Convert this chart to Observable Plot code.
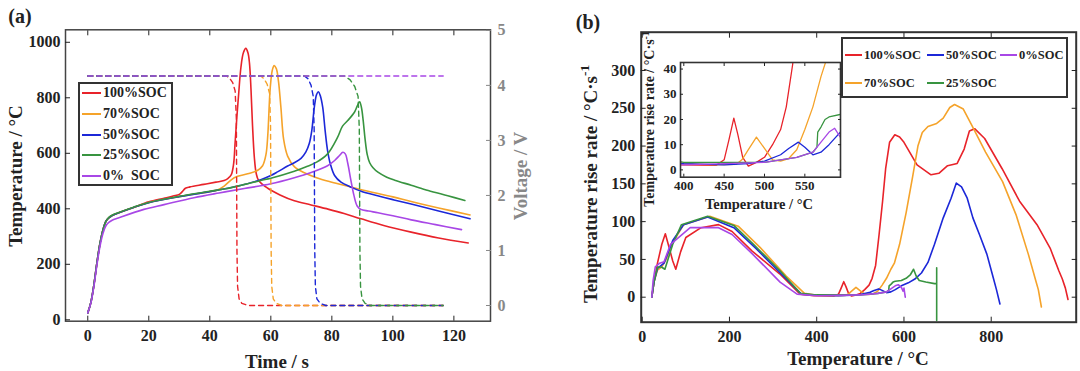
<!DOCTYPE html>
<html><head><meta charset="utf-8">
<script src="https://cdn.jsdelivr.net/npm/d3@7"></script>
<script src="https://cdn.jsdelivr.net/npm/@observablehq/plot@0.6"></script>
<style>
body{margin:0;background:#fff;}
#wrap{position:relative;width:1080px;height:371px;overflow:hidden;background:#fff;font-family:"Liberation Serif","Times New Roman",serif;font-weight:bold;color:#222;}
#wrap svg, #wrap svg text{font-family:"Liberation Serif","Times New Roman",serif !important;font-weight:bold !important;font-variant:normal !important;}
.abs{position:absolute;left:0;top:0;}
.lbl{position:absolute;white-space:pre;transform:translate(-50%,-50%);line-height:1;}
.vlbl{position:absolute;white-space:pre;transform:translate(-50%,-50%) rotate(-90deg);line-height:1;}
.vlbl sup{font-size:0.7em;vertical-align:0.55em;line-height:0;}
.legend{position:absolute;background:#fff;border:2px solid #333;box-sizing:border-box;}
.item{position:absolute;white-space:pre;display:flex;align-items:center;line-height:1;}
.sw{display:inline-block;height:0;border-top:2px solid;margin-right:2px;}
</style></head><body>
<div id="wrap"></div>
<script>
// ---------- categories / colours ----------
const socLabels = ["100%SOC", "70%SOC", "50%SOC", "25%SOC", "0%SOC"];
const socColors = ["#e8232a", "#f5a32a", "#1c28d8", "#389440", "#a847e6"];
const legendA = ["100%SOC", "70%SOC", "50%SOC", "25%SOC", "0%  SOC"];

// ---------- panel (a): temperature [time s, °C] ----------
const tempA100 = [[0,25],[1,62],[2,125],[3,205],[4,275],[5,325],[6,356],[7,368],[8,376],[10,385],[15,405],[20,425],[25,438],[28,446],[30,452],[31,462],[32,474],[33.5,479],[38,488],[42,496],[44.7,502],[46,510],[47,522],[47.8,562],[48.3,640],[48.8,720],[49.5,820],[50.2,910],[51,962],[51.8,978],[52.5,962],[53,925],[53.5,830],[54,700],[54.6,585],[55.2,528],[56,502],[59,474],[63,450],[67.7,429],[73.2,414],[79,398],[84,383],[89.6,364],[97,340],[106,316],[115,295],[124.7,277]];
const tempA70 = [[0,25],[1,62],[2,125],[3,205],[4,275],[5,325],[6,356],[7,368],[8,376],[10,385],[15,405],[20,423],[30,444],[40,462],[42.5,468],[44.7,482],[48,512],[52.4,526],[55.6,538],[57.3,555],[58.4,595],[59,665],[59.8,835],[60.5,900],[61.1,916],[61.8,905],[62.5,860],[63.3,766],[64.2,650],[65.5,590],[67.7,552],[71,530],[75,512],[80,496],[85,482],[90,468],[100,443],[106,426],[115,403],[125.3,378]];
const tempA50 = [[0,25],[1,62],[2,125],[3,205],[4,275],[5,325],[6,356],[7,368],[8,376],[10,385],[15,405],[20,422],[30,444],[40,462],[50,484],[56.7,505],[60,520],[62.2,533],[65.5,554],[67.7,566],[69.9,582],[71.5,605],[72.6,635],[73.4,680],[74.3,770],[75,812],[75.6,822],[76.2,808],[77,766],[77.8,682],[78.6,610],[79.5,562],[80.9,520],[83,496],[86.3,478],[89.6,463],[95,447],[100,433],[106,417],[115,392],[125.3,364]];
const tempA25 = [[0,25],[1,62],[2,125],[3,205],[4,275],[5,325],[6,356],[7,370],[8,377],[10,386],[15,406],[20,423],[30,445],[40,463],[45,472],[50,484],[56.7,502],[60,510],[67.7,535],[72,553],[75,568],[78.6,598],[81.9,658],[83.5,698],[85.2,718],[87.4,748],[88.3,770],[89.1,786],[89.7,765],[90.3,715],[90.9,650],[91.6,595],[92.4,566],[93.5,548],[95.1,532],[98,514],[100.6,503],[106,485],[111.6,466],[118,447],[123.6,430]];
const tempA0 = [[0,25],[1,60],[2,120],[3,198],[4,265],[5,312],[6,340],[7,352],[8,359],[10,367],[18.4,398],[25,415],[34.8,440],[43,457],[51.3,473],[60,490],[67.7,512],[73,530],[78.6,555],[81,575],[82.5,592],[83.6,604],[84.4,598],[85.2,565],[86.2,505],[87.2,450],[88.3,410],[89.5,398],[92,392],[95.1,386],[100,375],[106,360],[114,343],[122.5,325]];

// ---------- panel (a): voltage [time s, V] ----------
const voltA100 = [[0,4.17],[45.5,4.17],[46.5,4.13],[47.5,4.05],[48.3,3.9],[48.7,3.4],[48.9,1.0],[49.1,0.35],[49.6,0.12],[50.5,0.04],[52.5,0],[116.5,0]];
const voltA70 = [[0,4.17],[56.7,4.17],[57.8,4.12],[58.8,4.02],[59.6,3.85],[59.9,3.3],[60.1,1.0],[60.3,0.35],[60.8,0.12],[61.8,0.04],[63.5,0],[116.5,0]];
const voltA50 = [[0,4.17],[71,4.17],[72.2,4.12],[73.2,4.0],[73.9,3.8],[74.2,3.2],[74.4,1.0],[74.6,0.35],[75.1,0.12],[76.2,0.04],[78,0],[116.5,0]];
const voltA25 = [[0,4.17],[84.2,4.17],[86,4.1],[87.5,3.98],[88.6,3.8],[89,3.2],[89.2,1.0],[89.4,0.35],[89.9,0.12],[90.9,0.04],[92.5,0],[116.5,0]];
const voltA0 = [[0,4.17],[116.5,4.17]];

// ---------- panel (b): rise rate [°C, °C/s] ----------
const rateB100 = [[22,0],[27,20],[35,45],[45,70],[53,84],[62,65],[70,48],[77,37],[88,60],[100,79],[135,92],[175,96],[206,87],[252,61],[315,31],[362,4],[394,2],[440,1.8],[450,4],[456,12],[462,20.5],[467,14],[473,5],[480,1.5],[490,3],[500,5],[510,10],[520,16],[527,25],[535,42],[543,83],[551,127],[558,170],[567,205],[579,215],[590,212],[600,205],[630,175],[662,162],[680,164],[700,174],[722,177],[738,196],[750,220],[762,223],[785,210],[825,170],[865,127],[905,96],[935,65],[945,50],[955,35],[963,24],[970,12],[976,-3]];
const rateB70 = [[22,0],[27,20],[35,36],[45,40],[55,50],[70,72],[95,96],[155,107],[220,94],[270,66],[330,28],[372,5],[400,2.5],[440,2],[465,2.2],[472,4],[480,8],[490,13],[500,8.5],[510,4],[520,3.5],[530,4.5],[540,8],[550,16],[560,25],[570,37],[578,45],[590,70],[605,112],[620,160],[632,200],[642,218],[655,226],[675,230],[690,237],[705,251],[716,255],[736,249],[755,228],[787,192],[826,153],[857,109],[885,57],[902,22],[908,10],[915,-13]];
const rateB50 = [[22,0],[27,20],[35,38],[50,45],[70,75],[95,96],[150,106],[210,92],[260,65],[320,30],[365,4],[400,2.5],[450,2],[480,2.5],[500,3.5],[520,6],[530,8.5],[542,11],[550,9],[560,6],[570,7],[580,10],[594,15],[610,19],[625,24],[640,32],[655,46],[670,70],[690,105],[708,131],[720,151],[732,146],[745,131],[758,105],[773,83],[790,57],[805,25],[812,10],[820,-9]];
const rateB25 = [[22,0],[27,20],[35,40],[44,40],[52,37],[70,70],[90,96],[150,107],[210,95],[255,70],[316,35],[363,5],[400,3],[500,3],[540,5],[560,7],[565,9],[566,15],[570,17],[575,20],[580,21],[594,22],[605,25],[615,30],[622,37],[628,28],[635,22],[650,20],[670,18],[675,18],[675,39],[675,-31]];
const rateB0 = [[22,0],[25,22],[30,40],[40,45],[50,47],[65,70],[110,92],[175,92],[206,83],[253,57],[316,20],[355,4],[400,2],[500,3],[540,5],[560,7],[570,11],[580,15],[587,16.5],[594,13],[598,8],[600,12],[602,4],[603,0]];

// ---------- tick values ----------
const ticksTime = [0, 20, 40, 60, 80, 100, 120];
const ticksTemp = [0, 200, 400, 600, 800, 1000];
const ticksVolt = [0, 1, 2, 3, 4, 5];
const ticksBX = [0, 200, 400, 600, 800];
const ticksBY = [0, 50, 100, 150, 200, 250, 300];
const ticksIX = [400, 450, 500, 550];
const ticksIY = [0, 10, 20, 30, 40];

// ---------- tables built from the arrays ----------
function rows(label, arr, kx, ky) { return arr.map(([a, b]) => ({soc: label, [kx]: a, [ky]: b})); }
const tempRows = [].concat(
  rows(socLabels[0], tempA100, "t", "T"), rows(socLabels[1], tempA70, "t", "T"),
  rows(socLabels[2], tempA50, "t", "T"), rows(socLabels[3], tempA25, "t", "T"),
  rows(socLabels[4], tempA0, "t", "T"));
const voltRows = [].concat(
  rows(socLabels[0], voltA100, "t", "V"), rows(socLabels[1], voltA70, "t", "V"),
  rows(socLabels[2], voltA50, "t", "V"), rows(socLabels[3], voltA25, "t", "V"),
  rows(socLabels[4], voltA0, "t", "V"));
const rateRows = [].concat(
  rows(socLabels[0], rateB100, "T", "R"), rows(socLabels[1], rateB70, "T", "R"),
  rows(socLabels[2], rateB50, "T", "R"), rows(socLabels[3], rateB25, "T", "R"),
  rows(socLabels[4], rateB0, "T", "R"));

const font = '"Liberation Serif","Times New Roman",serif';
const fmt = d => String(d);
const color = {domain: socLabels, range: socColors};
const wrap = document.getElementById("wrap");
function place(el, left, top) {
  const d = document.createElement("div");
  d.className = "abs"; d.style.left = left + "px"; d.style.top = top + "px";
  d.appendChild(el); wrap.appendChild(d);
}

// ---------- panel (a): temperature ----------
const mA = {width: 540, height: 371, marginLeft: 65, marginRight: 50, marginTop: 29.3, marginBottom: 50.3};
const plotA = Plot.plot({
  ...mA,
  style: {background: "transparent", fontFamily: font, fontSize: "16px", fontWeight: "bold", color: "#222", overflow: "visible"},
  x: {domain: [-7.3, 132]},
  y: {domain: [-5, 1045]},
  color,
  marks: [
    Plot.line(tempRows, {x: "t", y: "T", z: "soc", stroke: "soc", strokeWidth: 1.6, curve: "catmull-rom"}),
    Plot.frame({stroke: "#444", strokeWidth: 1.5}),
    Plot.axisX(ticksTime, {tickSize: 0, tickPadding: 8, tickFormat: fmt, label: null}),
    Plot.axisX(ticksTime, {tickSize: -5, fill: "none", label: null}),
    Plot.axisX(ticksTime, {anchor: "top", tickSize: -5, fill: "none", label: null}),
    Plot.axisY(ticksTemp, {tickSize: 0, tickPadding: 5, tickFormat: fmt, label: null}),
    Plot.axisY(ticksTemp, {tickSize: -5, fill: "none", label: null})
  ]
});
place(plotA, 0, 0);

// ---------- panel (a): voltage overlay ----------
const plotAV = Plot.plot({
  ...mA,
  style: {background: "transparent", fontFamily: font, fontSize: "16px", fontWeight: "bold", color: "#888", overflow: "visible"},
  x: {domain: [-7.3, 132], axis: null},
  y: {domain: [-0.285, 5.01]},
  color,
  marks: [
    Plot.line(voltRows, {x: "t", y: "V", z: "soc", stroke: "soc", strokeWidth: 1.4, strokeDasharray: "5,4"}),
    Plot.axisY(ticksVolt, {anchor: "right", tickSize: 0, tickPadding: 7, tickFormat: fmt, label: null}),
    Plot.axisY(ticksVolt, {anchor: "right", tickSize: -5, fill: "none", label: null})
  ]
});
place(plotAV, 0, 0);

// ---------- panel (b): main ----------
const plotB = Plot.plot({
  width: 540, height: 371, marginLeft: 100.7, marginRight: 4.3, marginTop: 31.7, marginBottom: 49.3,
  style: {background: "transparent", fontFamily: font, fontSize: "16px", fontWeight: "bold", color: "#222", overflow: "visible"},
  x: {domain: [-2.3, 994.8]},
  y: {domain: [-33.1, 350.7]},
  color,
  marks: [
    Plot.line(rateRows, {x: "T", y: "R", z: "soc", stroke: "soc", strokeWidth: 1.6}),
    Plot.frame({stroke: "#333", strokeWidth: 2}),
    Plot.axisX(ticksBX, {tickSize: 0, tickPadding: 8, tickFormat: fmt, label: null}),
    Plot.axisX(ticksBX, {tickSize: -5, fill: "none", label: null}),
    Plot.axisX(ticksBX, {anchor: "top", tickSize: -5, fill: "none", label: null}),
    Plot.axisY(ticksBY, {tickSize: 0, tickPadding: 6, tickFormat: fmt, label: null}),
    Plot.axisY(ticksBY, {tickSize: -5, fill: "none", label: null}),
    Plot.axisY(ticksBY, {anchor: "right", tickSize: -5, fill: "none", label: null})
  ]
});
place(plotB, 540, 0);

// ---------- panel (b): inset ----------
const plotI = Plot.plot({
  width: 205, height: 150, marginLeft: 40, marginRight: 5, marginTop: 12, marginBottom: 23.3,
  style: {background: "transparent", fontFamily: font, fontSize: "13px", fontWeight: "bold", color: "#222", overflow: "visible"},
  x: {domain: [395.9, 594.2]},
  y: {domain: [-2.9, 42.6]},
  color,
  marks: [
    Plot.frame({fill: "#fff", stroke: null}),
    Plot.line(rateRows, {x: "T", y: "R", z: "soc", stroke: "soc", strokeWidth: 1.3, clip: true}),
    Plot.frame({stroke: "#333", strokeWidth: 1.6}),
    Plot.axisX(ticksIX, {tickSize: 0, tickPadding: 4, tickFormat: fmt, label: null}),
    Plot.axisX(ticksIX, {tickSize: -3, fill: "none", label: null}),
    Plot.axisX(ticksIX, {anchor: "top", tickSize: -3, fill: "none", label: null}),
    Plot.axisY(ticksIY, {tickSize: 0, tickPadding: 4, tickFormat: fmt, label: null}),
    Plot.axisY(ticksIY, {tickSize: -3, fill: "none", label: null}),
    Plot.axisY(ticksIY, {anchor: "right", tickSize: -3, fill: "none", label: null})
  ]
});
place(plotI, 640, 50);

// ---------- text labels ----------
function label(html, cx, cy, size, cls, col) {
  const d = document.createElement("div");
  d.className = cls || "lbl";
  d.style.left = cx + "px"; d.style.top = cy + "px"; d.style.fontSize = size + "px";
  if (col) d.style.color = col;
  d.innerHTML = html; wrap.appendChild(d);
}
label("(a)", 20, 16, 20);
label("(b)", 588, 22, 20);
label("Temperature / °C", 15, 176, 19, "vlbl");
label("Time / s", 277, 361, 19);
label("Voltage / V", 520, 176, 19, "vlbl", "#888");
label("Temperature rise rate / °C·s<sup>-1</sup>", 590, 184, 19, "vlbl");
label("Temperature / °C", 858, 358, 19);
label("Temperature rise rate / °C·s<sup>-1</sup>", 650, 119, 14, "vlbl");
label("Temperature / °C", 759, 204, 14.5);

// ---------- legends ----------
function box(l, t, w, h) {
  const d = document.createElement("div");
  d.className = "legend";
  Object.assign(d.style, {left: l + "px", top: t + "px", width: w + "px", height: h + "px"});
  wrap.appendChild(d);
}
function item(text, col, l, cy, swW, size) {
  const d = document.createElement("div");
  d.className = "item";
  Object.assign(d.style, {left: l + "px", top: (cy - 8) + "px", height: "16px", fontSize: size + "px"});
  const s = document.createElement("span");
  s.className = "sw"; s.style.width = swW + "px"; s.style.borderTopColor = col;
  const t = document.createElement("span"); t.textContent = text;
  d.appendChild(s); d.appendChild(t); wrap.appendChild(d);
}
box(78, 81.5, 95, 104);
const rowYA = [93.3, 114.3, 135, 155, 175.7];
legendA.forEach((s, i) => item(s, socColors[i], 82, rowYA[i], 19, 14));

box(841, 37, 227, 61);
const posB = [[845, 55], [845, 83.3], [927, 55], [927, 83.3], [1000, 55]];
socLabels.forEach((s, i) => item(s, socColors[i], posB[i][0], posB[i][1], 17, 12.5));
</script>
</body></html>
